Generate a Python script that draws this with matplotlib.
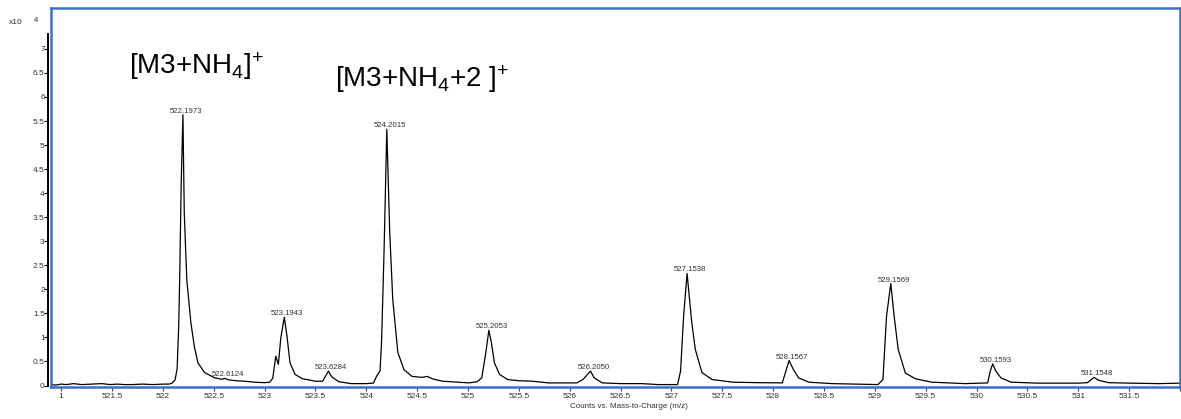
import matplotlib
matplotlib.use("Agg")
import matplotlib.pyplot as plt
import numpy as np
from matplotlib.lines import Line2D

plt.rcParams["font.family"] = ["Liberation Sans", "DejaVu Sans"]
plt.rcParams["mathtext.default"] = "regular"

# trace: m/z and counts (x10^4)
MZ = [520.90, 520.95, 521.00, 521.05, 521.12, 521.20, 521.30, 521.40, 521.48, 521.55,
      521.62, 521.70, 521.80, 521.90, 522.00, 522.06, 522.09, 522.12, 522.14, 522.155,
      522.165, 522.18, 522.197, 522.21, 522.235, 522.275, 522.31, 522.345, 522.41, 522.51,
      522.58, 522.61, 522.64, 522.72, 522.80, 522.90, 523.00, 523.05, 523.08, 523.11,
      523.135, 523.16, 523.194, 523.22, 523.25, 523.30, 523.375, 523.50, 523.57, 523.628,
      523.66, 523.73, 523.85, 524.00, 524.07, 524.10, 524.135, 524.15, 524.175, 524.2015,
      524.23, 524.26, 524.31, 524.37, 524.45, 524.55, 524.60, 524.65, 524.75, 524.90,
      525.01, 525.09, 525.135, 525.175, 525.205, 525.23, 525.26, 525.31, 525.39, 525.50,
      525.63, 525.79, 526.07, 526.13, 526.205, 526.24, 526.32, 526.50, 526.71, 526.87,
      527.06, 527.09, 527.12, 527.154, 527.20, 527.235, 527.30, 527.40, 527.60, 527.85,
      528.09, 528.12, 528.157, 528.20, 528.25, 528.35, 528.58, 528.80, 529.03, 529.08,
      529.115, 529.157, 529.19, 529.23, 529.30, 529.40, 529.56, 529.89, 530.11, 530.135,
      530.159, 530.19, 530.24, 530.34, 530.60, 531.00, 531.09, 531.155, 531.20, 531.30,
      531.50, 531.80, 532.00]
COUNTS = [0.02, 0.01, 0.03, 0.02, 0.04, 0.02, 0.03, 0.04, 0.02, 0.03,
          0.02, 0.02, 0.03, 0.02, 0.03, 0.03, 0.05, 0.12, 0.35, 1.2,
          2.2, 4.2, 5.63, 3.6, 2.2, 1.31, 0.8, 0.47, 0.27, 0.16,
          0.13, 0.15, 0.12, 0.10, 0.09, 0.07, 0.06, 0.07, 0.15, 0.61,
          0.44, 1.0, 1.42, 1.03, 0.47, 0.23, 0.14, 0.09, 0.09, 0.30,
          0.18, 0.08, 0.04, 0.04, 0.05, 0.19, 0.30, 0.9, 2.83, 5.33,
          3.2, 1.79, 0.69, 0.33, 0.19, 0.17, 0.19, 0.14, 0.09, 0.07,
          0.055, 0.08, 0.16, 0.68, 1.15, 0.89, 0.47, 0.23, 0.125, 0.10,
          0.09, 0.055, 0.055, 0.125, 0.30, 0.16, 0.055, 0.04, 0.04, 0.02,
          0.02, 0.3, 1.44, 2.33, 1.31, 0.75, 0.27, 0.125, 0.07, 0.06,
          0.055, 0.26, 0.52, 0.33, 0.16, 0.07, 0.04, 0.03, 0.02, 0.125,
          1.44, 2.12, 1.44, 0.75, 0.26, 0.14, 0.07, 0.04, 0.055, 0.3,
          0.45, 0.30, 0.16, 0.07, 0.05, 0.05, 0.06, 0.17, 0.11, 0.06,
          0.05, 0.04, 0.05]

PEAK_LABELS = ["522.1973", "522.6124", "523.1943", "523.6284", "524.2015", "525.2053",
               "526.2050", "527.1538", "528.1567", "529.1569", "530.1593", "531.1548"]
PEAK_MZ = [522.197, 522.612, 523.194, 523.628, 524.2015, 525.205,
           526.205, 527.154, 528.157, 529.157, 530.159, 531.155]
PEAK_COUNTS = [5.63, 0.15, 1.42, 0.30, 5.33, 1.15, 0.30, 2.33, 0.52, 2.12, 0.45, 0.17]

XTICKS = [521.0, 521.5, 522.0, 522.5, 523.0, 523.5, 524.0, 524.5, 525.0, 525.5, 526.0,
          526.5, 527.0, 527.5, 528.0, 528.5, 529.0, 529.5, 530.0, 530.5, 531.0, 531.5, 532.0]
XTICK_LABELS = ["1", "521.5", "522", "522.5", "523", "523.5", "524", "524.5", "525",
                "525.5", "526", "526.5", "527", "527.5", "528", "528.5", "529", "529.5",
                "530", "530.5", "531", "531.5", ""]
YTICKS = [0, 0.5, 1, 1.5, 2, 2.5, 3, 3.5, 4, 4.5, 5, 5.5, 6, 6.5, 7]
YTICK_LABELS = ["0", "0.5", "1", "1.5", "2", "2.5", "3", "3.5", "4", "4.5",
                "5", "5.5", "6", "6.5", "7"]

BLUE = "#3f6fc6"

fig = plt.figure(figsize=(11.81, 4.19), dpi=100)
ax = fig.add_axes([0.0432, 0.0764, 0.9559, 0.9045])

ax.plot(MZ, COUNTS, color="black", lw=0.9)
ax.set_xlim(520.9, 532.0)
ax.set_ylim(-0.03, 7.85)

for lab, x, y in zip(PEAK_LABELS, PEAK_MZ, PEAK_COUNTS):
    ax.annotate(lab, (x, y), xytext=(2, 0), textcoords="offset points",
                ha="center", va="bottom", fontsize=5.6, color="#333333")

ax.text(521.67, 6.48, "[M3+NH$_4]^{+}$", fontsize=20, ha="left", va="baseline")
ax.text(523.69, 6.21, "[M3+NH$_4$+2 $]^{+}$", fontsize=20, ha="left", va="baseline")

# frame: blue box, black y spine slightly outside
for s in ["top", "right", "bottom"]:
    ax.spines[s].set_color(BLUE)
    ax.spines[s].set_linewidth(1.8)
ax.spines["left"].set_color("black")
ax.spines["left"].set_linewidth(1.4)
ax.spines["left"].set_position(("outward", 2))
ax.spines["left"].set_bounds(0, 7.3)
ax.add_line(Line2D([0, 0], [0, 1], transform=ax.transAxes, color=BLUE,
                   lw=1.8, clip_on=False))

ax.set_xticks(XTICKS)
ax.set_xticklabels(XTICK_LABELS)
ax.set_yticks(YTICKS)
ax.set_yticklabels(YTICK_LABELS)
ax.tick_params(axis="x", direction="out", length=3, width=0.8, color="#444444",
               labelsize=6, pad=1.5, labelcolor="#333333")
ax.tick_params(axis="y", direction="out", length=3, width=0.8, color="black",
               labelsize=6, pad=-0.5, labelcolor="#333333")

fig.text(629 / 1181, 0.031, "Counts vs. Mass-to-Charge (m/z)", ha="center",
         va="center", fontsize=5.8, color="#333333")
fig.text(15.5 / 1181, 1 - 22.5 / 419, "x10", ha="center", va="center", fontsize=6,
         color="#333333")
fig.text(36.5 / 1181, 1 - 20 / 419, "4", ha="center", va="center", fontsize=5.5,
         color="#333333")

plt.savefig("out.png", dpi=100)
plt.close()
